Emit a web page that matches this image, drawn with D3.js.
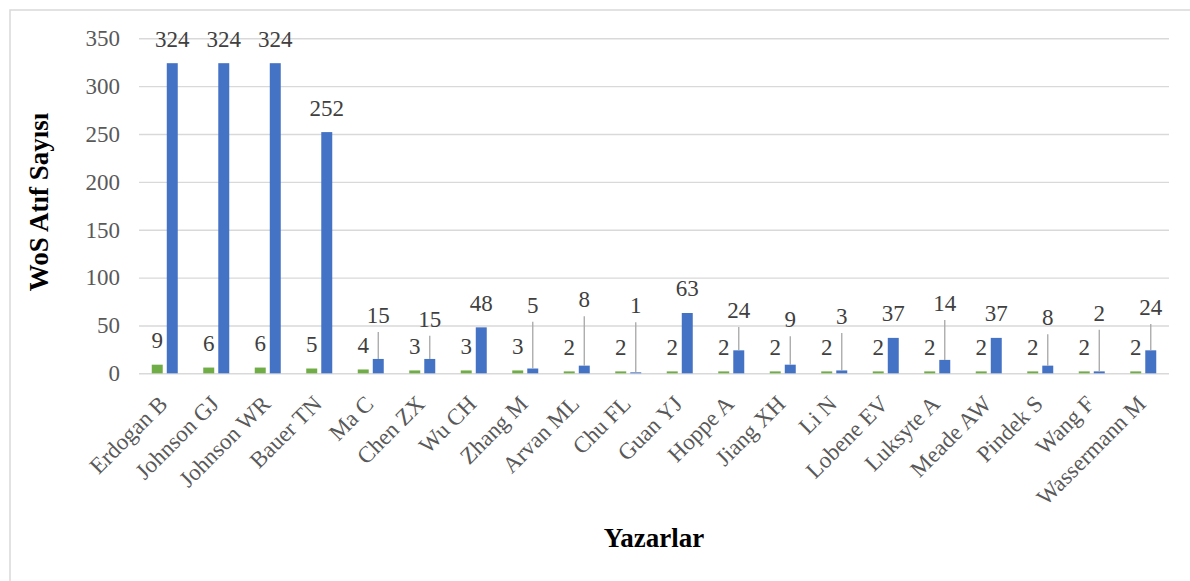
<!DOCTYPE html>
<html>
<head>
<meta charset="utf-8">
<script src="https://cdn.jsdelivr.net/npm/d3@7"></script>
<style>
  body { margin: 0; background: #fff; }
  text { font-family: "Liberation Serif", "Times New Roman", serif; }
</style>
</head>
<body>
<svg id="chart"></svg>
<script>
// Authors on the x axis
var authors = ["Erdogan B", "Johnson GJ", "Johnson WR", "Bauer TN", "Ma C", "Chen ZX",
  "Wu CH", "Zhang M", "Arvan ML", "Chu FL", "Guan YJ", "Hoppe A", "Jiang XH", "Li N",
  "Lobene EV", "Luksyte A", "Meade AW", "Pindek S", "Wang F", "Wassermann M"];

// green series (publication count) and blue series (WoS citations)
var docCounts = [9, 6, 6, 5, 4, 3, 3, 3, 2, 2, 2, 2, 2, 2, 2, 2, 2, 2, 2, 2];
var citations = [324, 324, 324, 252, 15, 15, 48, 5, 8, 1, 63, 24, 9, 3, 37, 14, 37, 8, 2, 24];

// where Excel put the blue labels (in axis units), leader line when higher than the bar
var citeLabelAt = [324, 324, 324, 252, 35.3, 31.4, 48, 46.1, 51.7, 45.4, 63, 40.5, 30.8, 34.3,
  37, 47.9, 37, 32.9, 37.7, 43.7];

var yTicks = [0, 50, 100, 150, 200, 250, 300, 350];

var W = 1190, H = 581;
var margin = {top: 38.3, right: 21, bottom: 207.7, left: 139},
  width = W - margin.left - margin.right,
  height = H - margin.top - margin.bottom;

var svgRoot = d3.select("#chart").attr("width", W).attr("height", H);

// chart area border (runs off the right and bottom of the picture)
svgRoot.append("rect")
  .attr("x", 10).attr("y", 10)
  .attr("width", 1200).attr("height", 600)
  .style("fill", "none")
  .style("stroke", "#d9d9d9")
  .style("stroke-width", 1.5);

var svg = svgRoot.append("g")
  .attr("transform", "translate(" + margin.left + "," + margin.top + ")");

var y = d3.scaleLinear().domain([0, 350]).range([height, 0]);

var x0 = d3.scaleBand().domain(authors).range([0, width]).padding(0);
var bw = x0.bandwidth();
var x1 = d3.scaleBand().domain(["doc", "cite"])
  .range([bw * 0.2476, bw * 0.7524])
  .paddingInner(0.27);

// y axis + gridlines
var yAxis = svg.append("g")
  .call(d3.axisLeft(y).tickValues(yTicks).tickSize(-width).tickPadding(19));
yAxis.select(".domain").remove();
yAxis.selectAll("line").style("stroke", "#d9d9d9").style("stroke-width", 1.4);
yAxis.selectAll("text")
  .style("font-size", "23px")
  .style("fill", "#595959");

// x axis labels
var xAxis = svg.append("g")
  .attr("transform", "translate(0," + height + ")")
  .call(d3.axisBottom(x0).tickSize(0));
xAxis.select(".domain").remove();
xAxis.selectAll("text")
  .attr("x", 0).attr("y", 0).attr("dy", 0)
  .attr("transform", "translate(4,32) rotate(-45)")
  .style("text-anchor", "end")
  .style("font-size", "23px")
  .style("fill", "#595959");

// bars
var groups = svg.selectAll(".grp")
  .data(authors)
  .enter().append("g")
  .attr("transform", function(d) { return "translate(" + x0(d) + ",0)"; });

groups.append("rect")
  .attr("x", x1("doc"))
  .attr("width", x1.bandwidth())
  .attr("y", function(d, i) { return y(docCounts[i]); })
  .attr("height", function(d, i) { return height - y(docCounts[i]); })
  .style("fill", "#70ad47");

groups.append("rect")
  .attr("x", x1("cite"))
  .attr("width", x1.bandwidth())
  .attr("y", function(d, i) { return y(citations[i]); })
  .attr("height", function(d, i) { return height - y(citations[i]); })
  .style("fill", "#4472c4");

// leader lines for moved labels
groups.filter(function(d, i) { return citeLabelAt[i] > citations[i]; })
  .append("line")
  .attr("x1", x1("cite") + x1.bandwidth() / 2)
  .attr("x2", x1("cite") + x1.bandwidth() / 2)
  .attr("y1", function(d) { var i = authors.indexOf(d); return y(citations[i]); })
  .attr("y2", function(d) { var i = authors.indexOf(d); return y(citeLabelAt[i]) - 7.5; })
  .style("stroke", "#a6a6a6")
  .style("stroke-width", 1.3);

// data labels
groups.append("text")
  .attr("x", x1("doc") + x1.bandwidth() / 2)
  .attr("y", function(d, i) { return y(docCounts[i]) - 16.5; })
  .style("text-anchor", "middle")
  .style("font-size", "23px")
  .style("fill", "#404040")
  .text(function(d, i) { return docCounts[i]; });

groups.append("text")
  .attr("x", x1("cite") + x1.bandwidth() / 2)
  .attr("y", function(d, i) { return y(citeLabelAt[i]) - 16.5; })
  .style("text-anchor", "middle")
  .style("font-size", "23px")
  .style("fill", "#404040")
  .text(function(d, i) { return citations[i]; });

// axis titles
svgRoot.append("text")
  .attr("transform", "translate(48,202) rotate(-90)")
  .style("text-anchor", "middle")
  .style("font-size", "27px")
  .style("font-weight", "bold")
  .style("fill", "#000")
  .text("WoS Atıf Sayısı");

svgRoot.append("text")
  .attr("x", 654).attr("y", 547)
  .style("text-anchor", "middle")
  .style("font-size", "27px")
  .style("font-weight", "bold")
  .style("fill", "#000")
  .text("Yazarlar");
</script>
</body>
</html>
